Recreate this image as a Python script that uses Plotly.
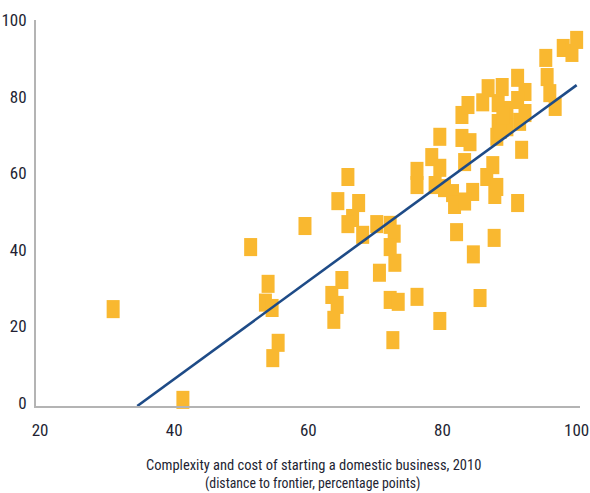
import plotly.graph_objects as go

# Complexity and cost of starting a business (x) vs. other indicator (y)
x_vals = [30.9, 41.3, 51.4, 54.0, 53.6, 54.6, 55.5, 54.7, 59.5, 65.9,
          64.4, 67.5, 66.6, 65.9, 68.1, 70.2, 72.2, 72.8, 72.2, 72.9,
          70.6, 65.0, 63.5, 64.3, 63.8, 72.2, 73.4, 76.2, 72.6, 79.6,
          82.1, 87.7, 84.6, 85.6, 76.2, 76.2, 78.4, 79.6, 78.9, 80.3,
          83.3, 81.5, 81.8, 84.5, 83.3, 87.5, 86.6, 88.1, 87.8, 91.8,
          91.2, 79.6, 82.9, 84.1, 88.1, 88.3, 91.5, 89.6, 92.3, 88.3,
          82.9, 83.8, 86.0, 86.8, 88.9, 91.2, 92.3, 91.2, 95.4, 95.6,
          96.0, 96.8, 98.0, 99.3, 100.0, 89.6, 88.6, 89.0]
y_vals = [24.5, 0.8, 40.7, 31.1, 26.2, 24.8, 15.7, 11.7, 46.2, 59.0,
          52.7, 52.2, 48.3, 46.7, 43.9, 46.7, 46.5, 44.2, 40.7, 36.6,
          34.0, 32.1, 28.2, 25.6, 21.7, 26.9, 26.4, 27.7, 16.4, 21.4,
          44.6, 43.1, 38.8, 27.4, 60.6, 56.9, 64.2, 61.4, 56.9, 56.1,
          62.9, 54.8, 51.7, 55.1, 52.6, 62.1, 59.0, 56.4, 54.3, 66.1,
          52.2, 69.5, 69.2, 68.1, 69.5, 73.1, 73.4, 76.5, 75.7, 78.3,
          75.2, 77.8, 78.5, 82.2, 82.5, 84.9, 81.2, 79.1, 90.1, 85.1,
          80.9, 77.3, 92.7, 91.4, 94.8, 72.0, 71.3, 75.0]

# fitted regression line endpoints
fit_x = [34.5, 100.0]
fit_y = [-0.8, 83.0]

x_ticks = [20, 40, 60, 80, 100]
y_ticks = [0, 20, 40, 60, 80, 100]

title_line1 = "Complexity and cost of starting a domestic business, 2010"
title_line2 = "(distance to frontier, percentage points)"

FONT = "Roboto Condensed, Roboto, sans-serif"
MARK = "#F9B830"
LINE = "#1E4B87"
TXT = "#231F33"

fig = go.Figure()
fig.add_trace(go.Scatter(
    x=x_vals, y=y_vals, mode="markers",
    marker=dict(symbol="line-ns", size=12.9, color=MARK,
                line=dict(color=MARK, width=13)),
    cliponaxis=False, showlegend=False, hoverinfo="skip"))
fig.add_trace(go.Scatter(
    x=fit_x, y=fit_y, mode="lines",
    line=dict(color=LINE, width=2.6),
    cliponaxis=False, showlegend=False, hoverinfo="skip"))

fig.update_layout(
    width=590, height=493,
    margin=dict(l=36, r=10, t=20, b=87),
    paper_bgcolor="white", plot_bgcolor="white",
    font=dict(family=FONT, color=TXT, size=16),
    xaxis=dict(range=[19.4, 100.5], tickvals=x_ticks, showgrid=False,
               zeroline=False, showline=True, linecolor="#B4B4B4", linewidth=2,
               ticks="", ticklabelstandoff=8, automargin=False,
               tickfont=dict(family=FONT, size=17, color=TXT)),
    yaxis=dict(range=[-0.8, 100], tickvals=y_ticks, showgrid=False,
               zeroline=False, showline=True, linecolor="#B4B4B4", linewidth=2,
               ticks="", ticklabelstandoff=4, automargin=False,
               tickfont=dict(family=FONT, size=17, color=TXT)),
    annotations=[
        dict(text=title_line1, xref="paper", yref="paper", x=0.511, y=-0.153,
             xanchor="center", yanchor="middle", showarrow=False,
             font=dict(family=FONT, size=14.5, color=TXT)),
        dict(text=title_line2, xref="paper", yref="paper", x=0.508, y=-0.202,
             xanchor="center", yanchor="middle", showarrow=False,
             font=dict(family=FONT, size=13.8, color=TXT)),
    ],
)

fig.write_html("out.html")
